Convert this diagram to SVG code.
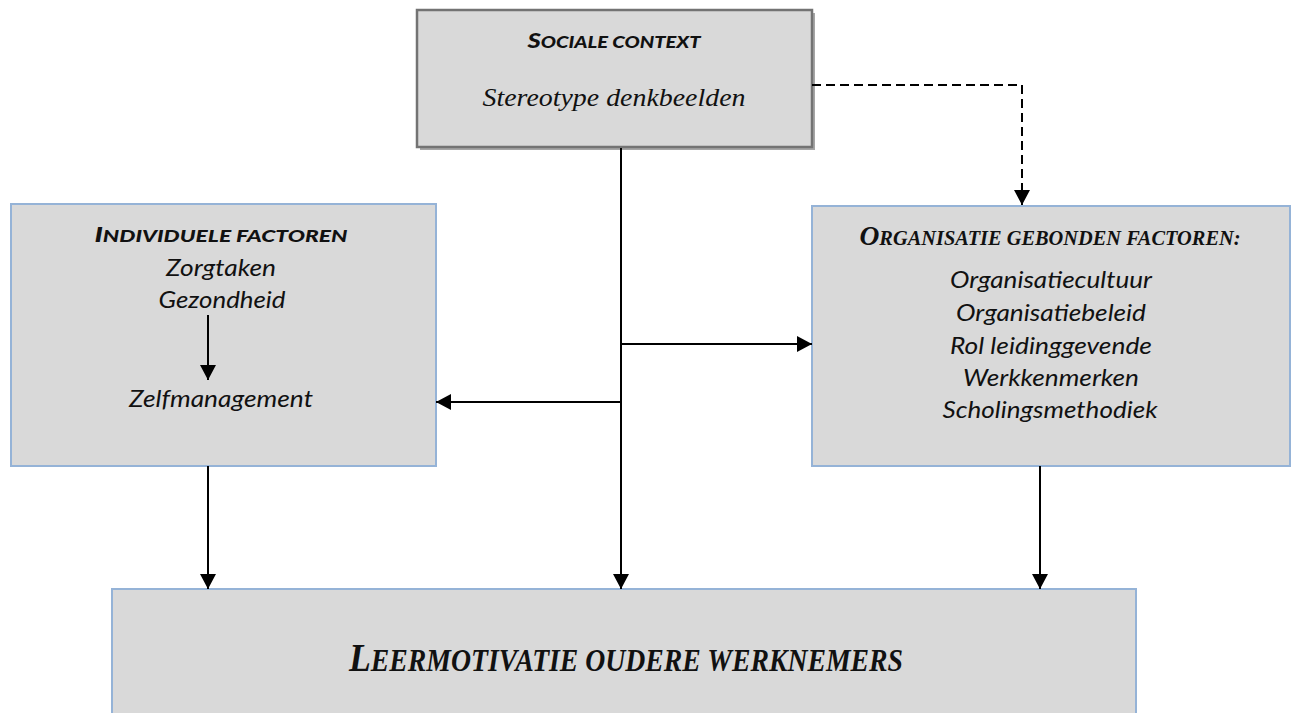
<svg xmlns="http://www.w3.org/2000/svg" width="1291" height="713" viewBox="0 0 1291 713">
<style>
  .box { fill: #d9d9d9; stroke: #95b3d7; stroke-width: 2; }
  .sbox { fill: #d9d9d9; stroke: #737373; stroke-width: 2.5; }
  .shadow { fill: #a6a6a6; }
  .item { font-family: Lato, "Liberation Sans", sans-serif; font-style: italic; font-size: 24px; fill: #111; text-anchor: middle; }
  .title { font-family: Lato, "Liberation Sans", sans-serif; font-style: italic; font-weight: 900; fill: #111; text-anchor: middle; }
  .stitle { font-family: "Liberation Serif", "DejaVu Serif", serif; font-style: italic; font-weight: bold; fill: #111; text-anchor: middle; }
  .serif { font-family: "Liberation Serif", "DejaVu Serif", serif; font-style: italic; fill: #111; text-anchor: middle; }
  .conn { fill: none; stroke: #000; stroke-width: 2; }
  .dash { stroke-dasharray: 9 5; }
</style>
<defs>
  <marker id="arrow" markerUnits="userSpaceOnUse" markerWidth="16" markerHeight="16" refX="15" refY="8" orient="auto">
    <path d="M0,0 L15,8 L0,16 z" fill="#000"/>
  </marker>
</defs>

<g id="sociale-context">
  <rect class="shadow" x="420" y="13" width="395" height="137"/>
  <rect class="sbox" x="417" y="10" width="395" height="137"/>
  <text class="title" x="614" y="48" textLength="173" lengthAdjust="spacingAndGlyphs"><tspan font-size="21">S</tspan><tspan font-size="16.5">OCIALE CONTEXT</tspan></text>
  <text class="serif" x="614" y="106" font-size="26" textLength="263" lengthAdjust="spacingAndGlyphs">Stereotype denkbeelden</text>
</g>

<g id="individuele-factoren">
  <rect class="box" x="11" y="204" width="425" height="262"/>
  <text class="title" x="221" y="242" textLength="253" lengthAdjust="spacingAndGlyphs"><tspan font-size="21">I</tspan><tspan font-size="16.5">NDIVIDUELE FACTOREN</tspan></text>
  <text class="item" x="221" y="276" textLength="110" lengthAdjust="spacingAndGlyphs">Zorgtaken</text>
  <text class="item" x="222" y="308" textLength="127" lengthAdjust="spacingAndGlyphs">Gezondheid</text>
  <text class="item" x="221" y="407" textLength="184" lengthAdjust="spacingAndGlyphs">Zelfmanagement</text>
</g>

<g id="organisatie-factoren">
  <rect class="box" x="812" y="206" width="478" height="260"/>
  <text class="stitle" x="1050" y="245" textLength="381" lengthAdjust="spacingAndGlyphs"><tspan font-size="27">O</tspan><tspan font-size="20">RGANISATIE GEBONDEN FACTOREN:</tspan></text>
  <text class="item" x="1051" y="288" textLength="202" lengthAdjust="spacingAndGlyphs">Organisatiecultuur</text>
  <text class="item" x="1051" y="321" textLength="190" lengthAdjust="spacingAndGlyphs">Organisatiebeleid</text>
  <text class="item" x="1051" y="354" textLength="202" lengthAdjust="spacingAndGlyphs">Rol leidinggevende</text>
  <text class="item" x="1051" y="386" textLength="176" lengthAdjust="spacingAndGlyphs">Werkkenmerken</text>
  <text class="item" x="1050" y="418" textLength="215" lengthAdjust="spacingAndGlyphs">Scholingsmethodiek</text>
</g>

<g id="leermotivatie">
  <rect class="box" x="112" y="589" width="1024" height="140"/>
  <text class="stitle" x="626" y="671" textLength="554" lengthAdjust="spacingAndGlyphs"><tspan font-size="40">L</tspan><tspan font-size="31">EERMOTIVATIE OUDERE WERKNEMERS</tspan></text>
</g>

<g id="connectors">
  <path class="conn dash" d="M812,85 H1022 V205" marker-end="url(#arrow)"/>
  <path class="conn" d="M621,148 V589" marker-end="url(#arrow)"/>
  <path class="conn" d="M621,344 H812" marker-end="url(#arrow)"/>
  <path class="conn" d="M621,402 H436" marker-end="url(#arrow)"/>
  <path class="conn" d="M208,315 V380" marker-end="url(#arrow)"/>
  <path class="conn" d="M208,466 V589" marker-end="url(#arrow)"/>
  <path class="conn" d="M1040,466 V589" marker-end="url(#arrow)"/>
</g>
</svg>
